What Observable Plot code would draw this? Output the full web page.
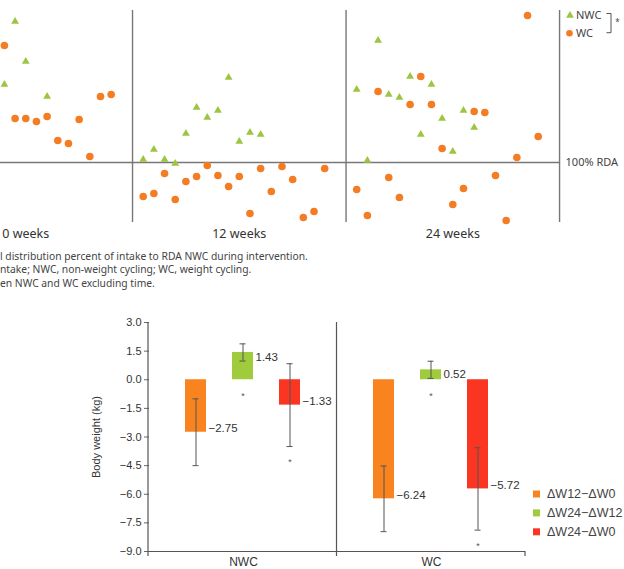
<!DOCTYPE html>
<html>
<head>
<meta charset="utf-8">
<script src="https://cdn.jsdelivr.net/npm/d3@7"></script>
<script src="https://cdn.jsdelivr.net/npm/@observablehq/plot@0.6"></script>
<style>
  html, body { margin: 0; padding: 0; background: #fff; }
  #fig { position: relative; width: 624px; height: 569px; overflow: hidden; background: #fff; }
  #fig > svg, #fig > div { position: absolute; }
  .cap { left: 0; font-family: "Noto Sans", sans-serif; font-size: 10.3px; line-height: 12px; color: #444; white-space: nowrap; }
</style>
</head>
<body>
<div id="fig"></div>
<script>
// ---------- Intake (% of RDA) per participant, by visit ----------
const weeks = [0, 12, 24];
const groupNames = ["NWC", "WC"];
// NWC participants (12 slots per visit); null = not shown
const nwcWeek0  = [null, null, null, null, null, null, null, 178, 241, 201, null, 166];
const nwcWeek12 = [103, 113, 103, 99, 129, 155, 145, 152, 185, 121, 130, 128];
const nwcWeek24 = [173, 102, 222, 168, 165, 186, 128, 178, 144, 111, 152, 135];
// WC participants (18 slots per visit)
const wcWeek0  = [null, null, null, null, null, null, null, 217, 144, 144, 141, 146, 122, 119, 143, 106, 166, 168];
const wcWeek12 = [66, 69, 89, 63, 81, 86, 97, 87, 76, 86, 49, 94, 71, 96, 83, 45, 51, 94];
const wcWeek24 = [73, 47, 171, 85, 65, 158, 186, 158, 114, 58, 74, 151, 150, 87, 42, 105, 247, 126];
const rdaLine = 100;

// ---------- Body weight change (kg), mean and SD ----------
const changeLabels = ["ΔW12−ΔW0", "ΔW24−ΔW12", "ΔW24−ΔW0"];
const nwcMean = [-2.75, 1.43, -1.33];
const nwcSD   = [1.75, 0.45, 2.17];
const wcMean  = [-6.24, 0.52, -5.72];
const wcSD    = [1.72, 0.45, 2.16];
const nwcSig  = ["", "*", "*"];
const wcSig   = ["", "*", "*"];
const yTicks  = [3.0, 1.5, 0.0, -1.5, -3.0, -4.5, -6.0, -7.5, -9.0];

// ---------- colours ----------
const dotOrange = "#f47d23", triGreen = "#9cc641";
const barColors = ["#f8831f", "#9fcb3d", "#fa3522"];
const ink = "#333";

// ---------- scatter: intake vs RDA ----------
const intake = [];
const nwcByWeek = [nwcWeek0, nwcWeek12, nwcWeek24];
const wcByWeek = [wcWeek0, wcWeek12, wcWeek24];
weeks.forEach((w, i) => {
  nwcByWeek[i].forEach((v, j) => { if (v != null) intake.push({week: w, slot: j + 1, group: "NWC", pct: v}); });
  wcByWeek[i].forEach((v, j) => { if (v != null) intake.push({week: w, slot: j + 1, group: "WC", pct: v}); });
});
const panelWidth = weeks[1] - weeks[0];
const slotStep = panelWidth / 20;                       // participants spread across each visit panel
const xPos = d => d.week + (d.slot - 10) * slotStep;
const bounds = weeks.map(w => w + panelWidth / 2);      // panel separators
const xWindow = [-1.42, 33.65];

const scatter = Plot.plot({
  width: 624, height: 250,
  marginLeft: 0, marginRight: 0, marginTop: 10, marginBottom: 28,
  style: {fontFamily: "'Noto Sans', sans-serif", color: ink, background: "transparent"},
  x: {domain: xWindow},
  y: {domain: [40, 252], axis: null},
  marks: [
    Plot.ruleY([rdaLine], {x1: xWindow[0], x2: bounds[bounds.length - 1], stroke: "#777", strokeWidth: 1.4}),
    Plot.ruleX(bounds, {stroke: "#777", strokeWidth: 1.4}),
    Plot.dot(intake.filter(d => d.group === "WC"), {x: xPos, y: "pct", r: 3.8, fill: dotOrange, stroke: "none"}),
    Plot.dot(intake.filter(d => d.group === "NWC"), {x: xPos, y: "pct", r: 2.9, symbol: "triangle", fill: triGreen, stroke: "none"}),
    Plot.text([{pos: bounds[bounds.length - 1], pct: rdaLine, label: "100% RDA"}],
      {x: "pos", y: "pct", text: "label", dx: 6, textAnchor: "start", fontSize: 11, fill: "#444"}),
    Plot.axisX({ticks: weeks, tickSize: 0, tickPadding: 7, tickFormat: d => `${d} weeks`, fontSize: 12.5, label: null, fill: ink})
  ]
});

// ---------- bars: body weight change ----------
const means = [nwcMean, wcMean], sds = [nwcSD, wcSD], sigs = [nwcSig, wcSig];
const bars = groupNames.flatMap((g, gi) => changeLabels.map((s, si) => ({
  group: g, change: s, mean: means[gi][si], sd: sds[gi][si], sig: sigs[gi][si]
})));
const fmt2 = d3.format(".2f");
const fmt1 = d3.format(".1f");

const barPlot = Plot.plot({
  width: 624, height: 269,
  marginLeft: 148, marginRight: 99, marginTop: 22, marginBottom: 18,
  style: {fontFamily: "'Liberation Sans', Arial, sans-serif", fontSize: "11px", color: ink, background: "transparent"},
  fx: {domain: groupNames, padding: 0},
  x: {domain: changeLabels, paddingInner: 0.543, paddingOuter: 0.771, axis: null},
  y: {domain: [-9, 3]},
  color: {domain: changeLabels, range: barColors},
  marks: [
    Plot.axisY({ticks: yTicks, tickFormat: fmt1, tickSize: 5, tickPadding: 3, fontSize: 11,
      label: "Body weight (kg)", labelArrow: "none", labelAnchor: "center", labelOffset: 57, stroke: "#666"}),
    Plot.axisFx({anchor: "bottom", tickSize: 0, tickPadding: 6, fontSize: 12, label: null}),
    Plot.barY(bars, {fx: "group", x: "change", y: "mean", fill: "change"}),
    Plot.ruleY([-9], {stroke: "#555", strokeWidth: 1.2}),
    Plot.ruleX(bars, {fx: "group", x: "change", y1: d => d.mean - d.sd, y2: d => d.mean + d.sd, stroke: "#555", strokeWidth: 1}),
    Plot.tickY(bars, {fx: "group", x: "change", y: d => d.mean - d.sd, insetLeft: 7.5, insetRight: 7.5, stroke: "#555", strokeWidth: 1}),
    Plot.tickY(bars, {fx: "group", x: "change", y: d => d.mean + d.sd, insetLeft: 7.5, insetRight: 7.5, stroke: "#555", strokeWidth: 1}),
    Plot.text(bars.filter(d => d.mean < 0), {fx: "group", x: "change", y: "mean", text: d => fmt2(d.mean),
      dx: 12.5, textAnchor: "start", lineAnchor: "bottom", fontSize: 11.5, fill: ink}),
    Plot.text(bars.filter(d => d.mean >= 0), {fx: "group", x: "change", y: "mean", text: d => fmt2(d.mean),
      dx: 12.5, textAnchor: "start", lineAnchor: "top", fontSize: 11.5, fill: ink}),
    Plot.text(bars.filter(d => d.sig), {fx: "group", x: "change", y: d => Math.min(0, d.mean - d.sd), text: "sig",
      dy: 16, fontSize: 9, fill: "#555"})
  ]
});

// axis line, group divider and end ticks of the bar panel
{
  const fxs = barPlot.scale("fx"), ys = barPlot.scale("y");
  const band = d3.scaleBand(fxs.domain, fxs.range).paddingInner(fxs.paddingInner ?? 0).paddingOuter(fxs.paddingOuter ?? 0);
  const [yBottom, yTop] = d3.extent(ys.range).reverse();
  const edges = [...fxs.domain.map(g => band(g)), band(fxs.domain[fxs.domain.length - 1]) + band.bandwidth()];
  const g = d3.select(barPlot).append("g").attr("stroke", "#555").attr("stroke-width", 1.2);
  edges.forEach((x, i) => {
    g.append("line").attr("x1", x).attr("x2", x)
      .attr("y1", i < edges.length - 1 ? yTop : yBottom).attr("y2", yBottom + 5);
  });
}

const fig = d3.select("#fig");
fig.append(() => scatter).style("left", "0px").style("top", "0px");
fig.append(() => barPlot).style("left", "0px").style("top", "300px");

// caption lines under the scatter
const captionLines = [
  "l distribution percent of intake to RDA NWC during intervention.",
  "ntake; NWC, non-weight cycling; WC, weight cycling.",
  "en NWC and WC excluding time."
];
captionLines.forEach((t, i) => {
  fig.append("div").attr("class", "cap").style("top", `${249.5 + i * 13.5}px`).text(t);
});

// legends
const over = fig.append("svg").attr("width", 624).attr("height", 569).style("left", "0px").style("top", "0px")
  .style("pointer-events", "none");

// scatter legend with significance bracket
const sl = over.append("g").attr("font-family", "'Noto Sans', sans-serif").attr("font-size", 11).attr("fill", "#444");
sl.append("path").attr("d", d3.symbol(d3.symbolTriangle, 26)()).attr("transform", "translate(570,15.5)").attr("fill", triGreen);
sl.append("circle").attr("cx", 569.5).attr("cy", 33.3).attr("r", 3.3).attr("fill", dotOrange);
sl.append("text").attr("x", 576).attr("y", 15).attr("dy", "0.35em").text(groupNames[0]);
sl.append("text").attr("x", 576).attr("y", 33.3).attr("dy", "0.35em").text(groupNames[1]);
sl.append("path").attr("d", "M606.5,13.5H611V32.7H606.5").attr("fill", "none").attr("stroke", "#555").attr("stroke-width", 1);
sl.append("text").attr("x", 617.5).attr("y", 20.5).attr("dy", "0.6em").attr("text-anchor", "middle").attr("font-size", 8).text("*");

// bar legend
const bl = over.append("g").attr("font-family", "'Liberation Sans', Arial, sans-serif").attr("font-size", 12.5).attr("fill", "#444");
changeLabels.forEach((s, i) => {
  const y = 494 + i * 18.9;
  bl.append("rect").attr("x", 533).attr("y", y - 3.5).attr("width", 7).attr("height", 7).attr("fill", barColors[i]);
  bl.append("text").attr("x", 547).attr("y", y).attr("dy", "0.35em").text(s);
});
</script>
</body>
</html>
